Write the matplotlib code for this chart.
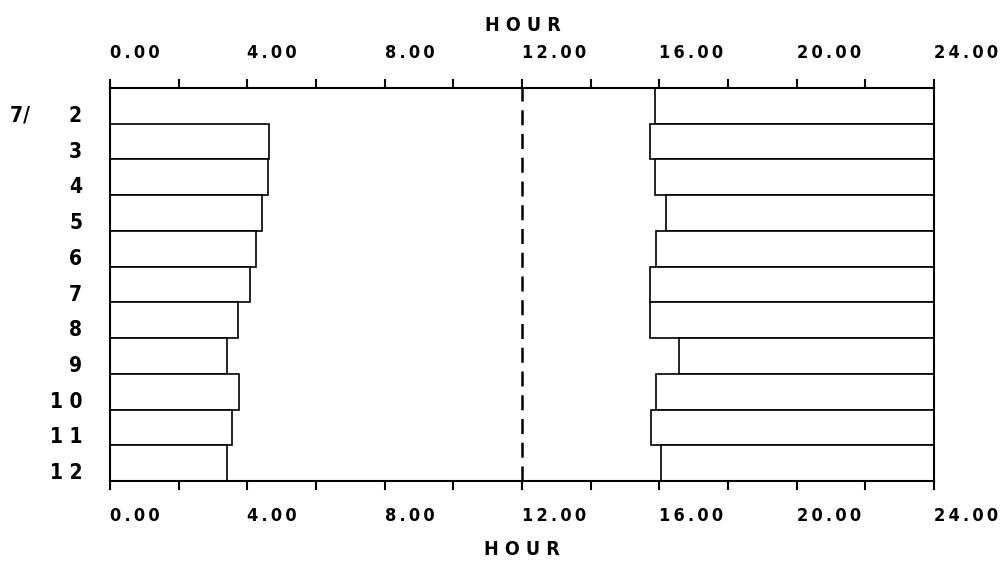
import matplotlib
matplotlib.use('Agg')
import matplotlib.pyplot as plt
from matplotlib.ticker import MultipleLocator

# July days, hours
days = ['2', '3', '4', '5', '6', '7', '8', '9', '10', '11', '12']
# end of the block after midnight (no block on 7/2)
end_hour = [None, 4.62, 4.60, 4.44, 4.25, 4.07, 3.72, 3.40, 3.75, 3.55, 3.40]
# start of the block in the afternoon, runs to 24:00
start_hour = [15.87, 15.73, 15.87, 16.18, 15.90, 15.73, 15.73, 16.57, 15.90, 15.75, 16.05]
hour_ticks = [0, 4, 8, 12, 16, 20, 24]

font = dict(family='DejaVu Sans', fontstretch='condensed', fontweight='bold')


def spaced(s, sep=' '):
    return sep.join(s)


day_labels = ['7/      2'] + [spaced(d) for d in days[1:]]

fig = plt.figure(figsize=(10.01, 5.70), dpi=100)
ax = fig.add_axes([0.1099, 0.1561, 0.8232, 0.6895])

ys = list(range(len(days)))
for y, e in zip(ys, end_hour):
    if e is not None:
        ax.barh(y, e, left=0, height=1, color='white', edgecolor='black', linewidth=1.2)
ax.barh(ys, [24 - s for s in start_hour], left=start_hour, height=1,
        color='white', edgecolor='black', linewidth=1.2)

ax.axvline(12, color='black', linestyle=(0, (6, 3.5)), linewidth=1.8)

ax.set_xlim(0, 24)
ax.set_ylim(len(days) - 0.5, -0.5)

for sp in ax.spines.values():
    sp.set_linewidth(1.5)

ax.xaxis.set_minor_locator(MultipleLocator(2))
ax.tick_params(axis='x', which='both', direction='out', length=6.5, width=1.5,
               top=True, bottom=True, labeltop=True, labelbottom=True, pad=12)
ax.set_xticks(hour_ticks)
ax.set_xticklabels([spaced(f'{h:.2f}', '\u2009') for h in hour_ticks])
for t in ax.xaxis.get_major_ticks():
    for lab in (t.label1, t.label2):
        lab.set_ha('left')
        lab.set_fontsize(13)
        lab.set(**font)

ax.set_yticks(ys)
ax.set_yticklabels(day_labels)
ax.tick_params(axis='y', length=0, pad=20)
for lab in ax.get_yticklabels():
    lab.set_va('top')
    lab.set_fontsize(15)
    lab.set(**font)

ax.set_xlabel(spaced('HOUR'), fontsize=14, **font)
ax.xaxis.set_label_coords(0.5, -0.15)
fig.text(0.5228, 0.955, spaced('HOUR'), ha='center', va='center', fontsize=14, **font)

fig.savefig('out.png', dpi=100)
